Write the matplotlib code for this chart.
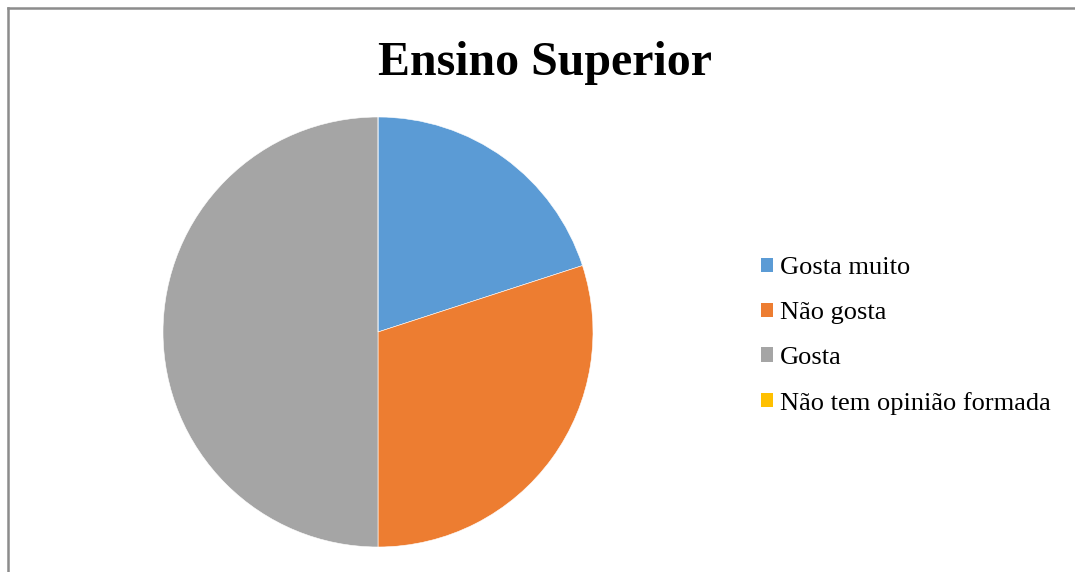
import matplotlib
matplotlib.use("Agg")
import matplotlib.pyplot as plt
from matplotlib.patches import Patch
from matplotlib.lines import Line2D

labels = ["Gosta muito", "Não gosta", "Gosta", "Não tem opinião formada"]
values = [20, 30, 50, 0]
colors = ["#5B9BD5", "#ED7D31", "#A5A5A5", "#FFC000"]

plt.rcParams['font.family'] = ['Liberation Serif', 'DejaVu Serif']

W, H = 1075, 572
fig = plt.figure(figsize=(W / 100, H / 100), dpi=100)

# chart frame (only top and left visible)
fig.add_artist(Line2D([8 / W, 8 / W], [0, 1 - 8 / H], color="#8c8c8c", lw=1.8))
fig.add_artist(Line2D([8 / W, 1], [1 - 8 / H, 1 - 8 / H], color="#8c8c8c", lw=1.8))

fig.text(544.5 / W, 1 - 63 / H, "Ensino Superior", ha="center", va="center",
         fontsize=34.5, fontweight="bold")

# pie
cx, cy, r = 378, 332, 215
ax = fig.add_axes([(cx - r) / W, 1 - (cy + r) / H, 2 * r / W, 2 * r / H])
ax.pie(values, colors=colors, startangle=90, counterclock=False, radius=1,
       wedgeprops=dict(edgecolor="white", linewidth=0.4))
ax.set_xlim(-1, 1)
ax.set_ylim(-1, 1)
ax.axis("off")

handles = [Patch(facecolor=c, edgecolor="none") for c in colors]
fig.legend(handles, labels, loc="center left", bbox_to_anchor=(761 / W, 1 - 336 / H),
           frameon=False, fontsize=19, handlelength=0.45, handleheight=0.45,
           handletextpad=0.27, labelspacing=0.86, borderpad=0, borderaxespad=0)

fig.savefig("out.png", dpi=100)
